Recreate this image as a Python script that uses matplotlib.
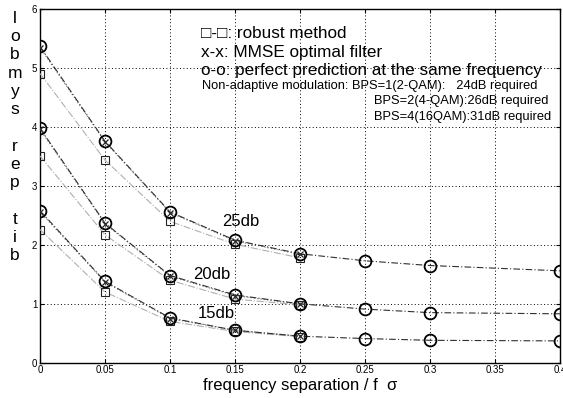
import matplotlib
matplotlib.use("Agg")
import matplotlib.pyplot as plt

plt.rcParams['font.family'] = ['Liberation Sans', 'DejaVu Sans']

# data
x_full = [0, 0.05, 0.1, 0.15, 0.2, 0.25, 0.3, 0.4]
x_short = [0, 0.05, 0.1, 0.15, 0.2]

perfect_25 = [5.37, 3.76, 2.56, 2.08, 1.85, 1.73, 1.65, 1.56]
perfect_20 = [3.98, 2.37, 1.48, 1.15, 1.00, 0.91, 0.85, 0.83]
perfect_15 = [2.58, 1.38, 0.76, 0.55, 0.45, 0.41, 0.38, 0.37]

mmse_25 = [5.35, 3.75, 2.55, 2.07, 1.84]
mmse_20 = [3.96, 2.36, 1.47, 1.14, 0.99]
mmse_15 = [2.56, 1.37, 0.75, 0.55, 0.45]

robust_25 = [4.91, 3.44, 2.40, 2.01, 1.78]
robust_20 = [3.51, 2.17, 1.40, 1.08, 0.98]
robust_15 = [2.26, 1.20, 0.70, 0.53, 0.44]

snr_labels = ['25db', '20db', '15db']
snr_label_pos = [(0.14, 2.39), (0.118, 1.50), (0.121, 0.84)]

xticks = [0, 0.05, 0.1, 0.15, 0.2, 0.25, 0.3, 0.35, 0.4]
xticklabels = ['0', '0.05', '0.1', '0.15', '0.2', '0.25', '0.3', '0.35', '0.4']
yticks = [0, 1, 2, 3, 4, 5, 6]

fig = plt.figure(figsize=(5.63, 3.98), dpi=100)
ax = fig.add_axes([0.0711, 0.0887, 0.9236, 0.8879])

for r in [robust_25, robust_20, robust_15]:
    ax.plot(x_short, r, linestyle='-.', color='#b0b0b0', lw=0.8,
            marker='s', markersize=6, markerfacecolor='none',
            markeredgecolor='#222222', markeredgewidth=0.8, zorder=3)
for m in [mmse_25, mmse_20, mmse_15]:
    ax.plot(x_short, m, linestyle=':', color='#808080', lw=0.9,
            marker='x', markersize=5, markeredgecolor='#222222',
            markeredgewidth=0.9, zorder=4)
for p in [perfect_25, perfect_20, perfect_15]:
    ax.plot(x_full, p, linestyle=(0, (6, 2, 1, 2)), color='#303030', lw=0.8,
            marker='o', markersize=8.5, markerfacecolor='none',
            markeredgecolor='black', markeredgewidth=1.3, zorder=5)

for lab, (lx, ly) in zip(snr_labels, snr_label_pos):
    ax.text(lx, ly, lab, fontsize=12, ha='left', va='center')

ax.set_xlim(0, 0.4)
ax.set_ylim(0, 6)
ax.set_xticks(xticks)
ax.set_xticklabels(xticklabels)
ax.set_yticks(yticks)
ax.tick_params(direction='in', labelsize=7, top=True, right=True, length=3, pad=2)
ax.grid(True, linestyle=(0, (1, 2.5)), color='black', lw=0.7)
for s in ax.spines.values():
    s.set_linewidth(1.0)

ax.set_xlabel('frequency separation / f  \u03c3', fontsize=12, labelpad=2)

fig.text(15 / 563, 1 - 11 / 398, 'l\no\nb\nm\ny\ns\n\nr\ne\np\n\nt\ni\nb',
         fontsize=12.5, ha='center', va='top', linespacing=1.27)

def fx(px):
    return px / 563
def fy(py):
    return 1 - py / 398

fig.text(fx(201), fy(33), '\u25a1-\u25a1: robust method', fontsize=12.3, va='center', ha='left')
fig.text(fx(201), fy(52), 'x-x: MMSE optimal filter', fontsize=12.3, va='center', ha='left')
fig.text(fx(201), fy(70), 'o-o: perfect prediction at the same frequency', fontsize=12.3, va='center', ha='left')
fig.text(fx(202), fy(86), 'Non-adaptive modulation: BPS=1(2-QAM):   24dB required', fontsize=9.3, va='center', ha='left')
fig.text(fx(374), fy(101), 'BPS=2(4-QAM):26dB required', fontsize=9.3, va='center', ha='left')
fig.text(fx(374), fy(117), 'BPS=4(16QAM):31dB required', fontsize=9.3, va='center', ha='left')

fig.savefig('out.png', dpi=100)
